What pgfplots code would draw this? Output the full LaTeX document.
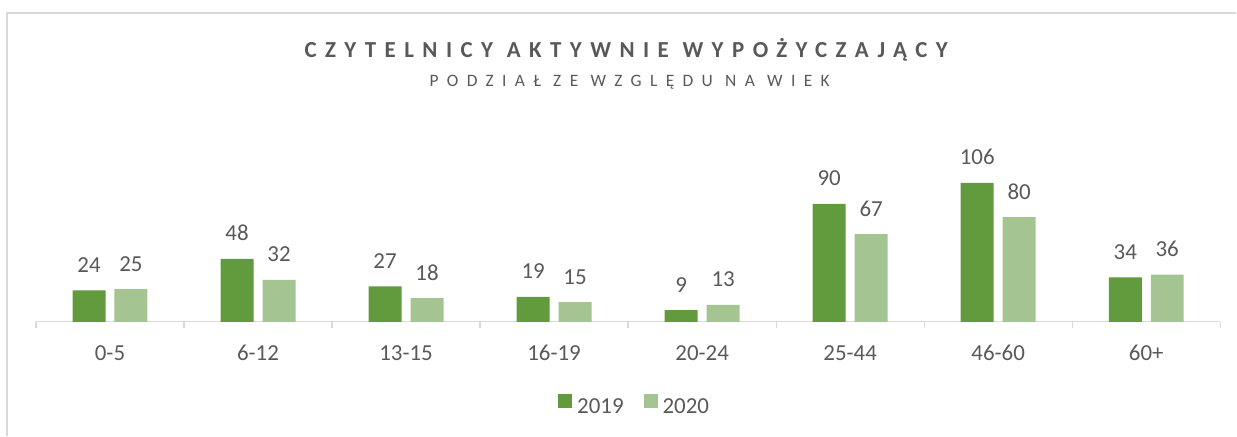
\documentclass[border=0pt]{standalone}
\usepackage{fontspec}
\setmainfont{Carlito}
\usepackage{pgfplots}
\pgfplotsset{compat=1.18}
\definecolor{dk}{HTML}{629A3E}
\definecolor{lt}{HTML}{A4C591}
\definecolor{txt}{HTML}{595959}
\definecolor{ln}{HTML}{D9D9D9}
\pgfplotsset{sqlegend/.style={legend image code/.code={\fill[##1] (0bp,-1bp) rectangle (14bp,13bp); \path (0bp,0bp) -- (17bp,0bp);}}}
\begin{document}
\begin{tikzpicture}[x=1bp,y=1bp]
\path (0,0) rectangle (1237,436);
\draw[ln, line width=1.3bp] (7,0) -- (7,423) -- (1237,423);
\node[anchor=base, text=txt, inner sep=0pt, font=\fontsize{23}{27}\selectfont\bfseries\addfontfeatures{LetterSpace=37}] at (626.5,378.5) {CZYTELNICY AKTYWNIE WYPOŻYCZAJĄCY};
\node[anchor=base, text=txt, inner sep=0pt, font=\fontsize{17.5}{20}\selectfont\addfontfeatures{LetterSpace=48}] at (630,349.3) {PODZIAŁ ZE WZGLĘDU NA WIEK};
\begin{axis}[
  at={(36bp,114bp)}, anchor=south west,
  scale only axis, width=1185bp, height=157.3bp,
  ymin=0, ymax=120, xmin=-0.5, xmax=7.5,
  clip=false,
  axis y line=none, axis x line*=bottom,
  axis line style={ln, line width=1.3bp},
  ybar=9bp, bar width=33bp,
  xtick={0,...,7},
  xticklabels={0-5,6-12,13-15,16-19,20-24,25-44,46-60,60+},
  major tick length=0pt,
  xticklabel style={anchor=base, yshift=-38.5bp, text=txt, font=\fontsize{23}{27}\selectfont},
  extra x ticks={-0.5,0.5,...,7.5},
  extra x tick labels={},
  extra x tick style={major tick length=6bp, tick align=outside, tick style={ln, line width=1.3bp}},
  /pgf/number format/assume math mode=true,
  nodes near coords,
  nodes near coords style={anchor=base, yshift=18bp, text=txt, font=\fontsize{23}{27}\selectfont},
  legend columns=2,
  legend style={at={(0.5055,-0.534)}, anchor=center, draw=none, fill=none, text=txt, font=\fontsize{23}{27}\selectfont, /tikz/every even column/.append style={column sep=18bp}},
]
\addplot[fill=dk, draw=none, sqlegend] coordinates {(0,24) (1,48) (2,27) (3,19) (4,9) (5,90) (6,106) (7,34)};
\addplot[fill=lt, draw=none, sqlegend] coordinates {(0,25) (1,32) (2,18) (3,15) (4,13) (5,67) (6,80) (7,36)};
\legend{2019,2020}
\end{axis}
\end{tikzpicture}
\end{document}
